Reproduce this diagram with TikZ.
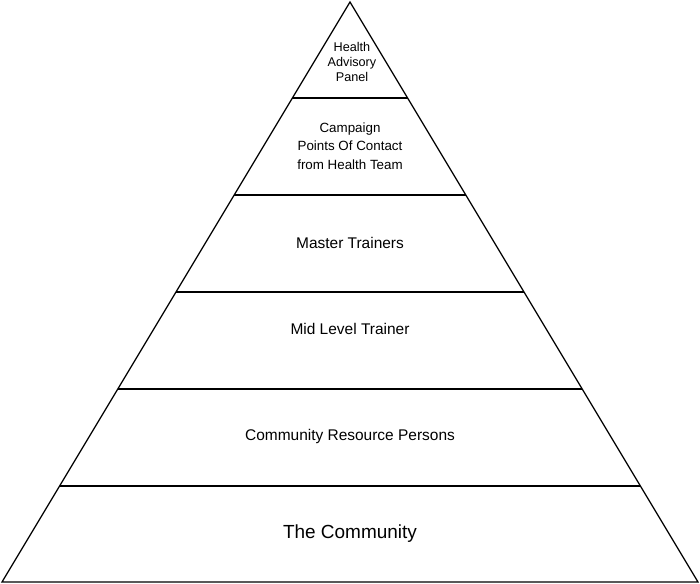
\documentclass[tikz,border=0pt]{standalone}
\usepackage{fontspec}
\setmainfont{Liberation Sans}
\usetikzlibrary{positioning}

\begin{document}
\begin{tikzpicture}[
  x=0.025cm, y=-0.025cm,
  edge/.style={draw, line width=0.9pt},
  tier/.style={align=center, font=\fontsize{11}{13}\selectfont}
]
  \useasboundingbox (0,0) rectangle (700,584);
  % outline of the pyramid
  \coordinate (apex) at (350,2);
  \coordinate (baseL) at (2,582);
  \coordinate (baseR) at (698,582);
  \draw[edge] (apex) -- (baseL) -- (baseR) -- cycle;
  % tier lines
  \foreach \y in {98,195,292,389,486} {
    \pgfmathsetmacro{\hw}{(\y-2)/580*348}
    \draw[edge] (350-\hw,\y) -- (350+\hw,\y);
  }
  \node[tier, font=\fontsize{9}{11}\selectfont] (panel) at (352,62) {Health\\Advisory\\Panel};
  \node[tier, font=\fontsize{9.5}{13}\selectfont] (contact) at (350,146) {Campaign\\Points Of Contact\\from Health Team};
  \node[tier] (master) at (350,243) {Master Trainers};
  \node[tier] (mid) at (350,329) {Mid Level Trainer};
  \node[tier] (crp) at (350,437) {Community Resource Persons};
  \node[tier, font=\fontsize{13.5}{16}\selectfont] (community) at (350,534) {The Community};
\end{tikzpicture}
\end{document}
